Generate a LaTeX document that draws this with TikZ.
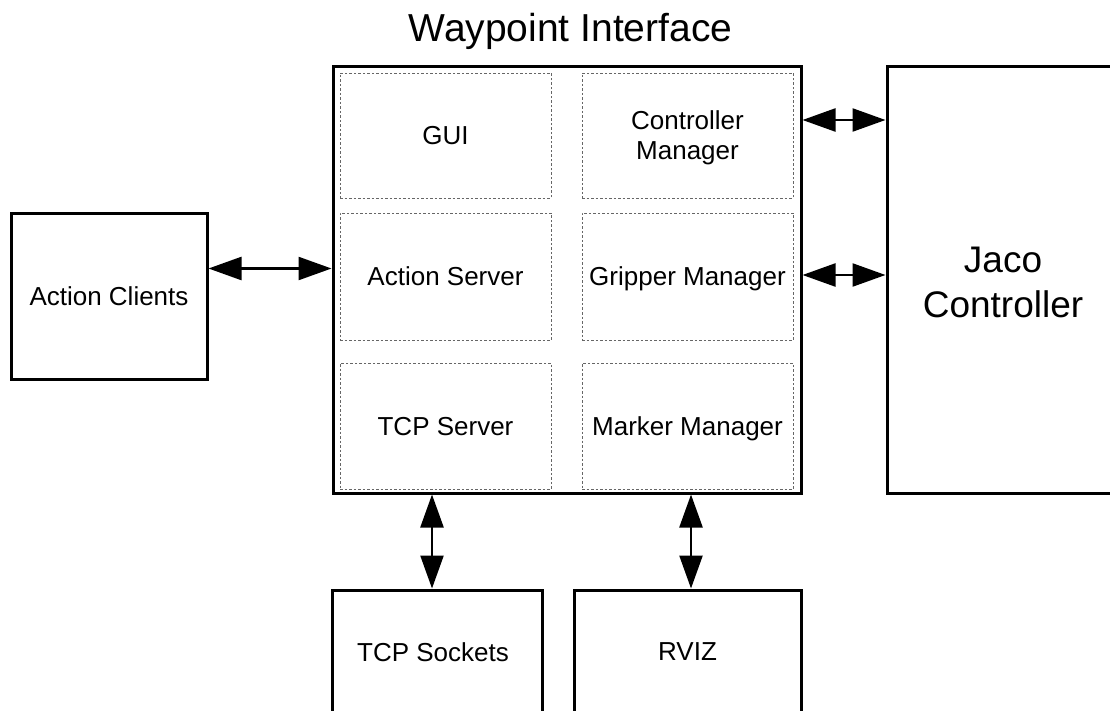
\documentclass[tikz,border=0pt]{standalone}
\usepackage{fontspec}
\setmainfont{Liberation Sans}
\usetikzlibrary{arrows.meta}
\begin{document}
\begin{tikzpicture}[x=1pt,y=-1pt,
  solidbox/.style={draw=black,line width=3pt,rectangle,inner sep=0pt,fill=white},
  subbox/.style={draw=black!60,line width=0.9pt,dash pattern=on 2.5pt off 2pt,rectangle,inner sep=0pt,align=center,text depth=0pt,font=\fontsize{26}{30}\selectfont},
  lbl/.style={font=\fontsize{26}{30}\selectfont,align=center,inner sep=0pt,text depth=0pt},
  biarrow/.style={line width=2.4pt,{Triangle[length=33pt,width=23pt]}-{Triangle[length=33pt,width=23pt]}}]
\useasboundingbox (0,0) rectangle (1110,711);
\clip (0,0) rectangle (1110,711);
\fill[white] (0,0) rectangle (1110,711);
% title
\node[anchor=base,inner sep=0pt,font=\fontsize{39}{44}\selectfont] (title) at (570.5,42) {Waypoint Interface};
% main box
\node[solidbox,minimum width=468pt,minimum height=426pt] (wi) at (567,280) {};
% sub boxes
\node[subbox,minimum width=211pt,minimum height=125pt] (gui) at (445.5,135.5) {GUI};
\node[subbox,minimum width=211pt,minimum height=127pt] (as) at (445.5,276.5) {Action Server};
\node[subbox,minimum width=211pt,minimum height=126pt] (tcpserv) at (445.5,426) {TCP Server};
\node[subbox,minimum width=211pt,minimum height=125pt] (cm) at (687.5,135.5) {Controller\\Manager};
\node[subbox,minimum width=211pt,minimum height=127pt] (gm) at (687.5,276.5) {Gripper Manager};
\node[subbox,minimum width=211pt,minimum height=126pt] (mm) at (687.5,426) {Marker Manager};
% outer boxes
\node[solidbox,minimum width=196pt,minimum height=165pt] (ac) at (109,296.5) {};
\node[lbl] (aclbl) at (ac.center) {Action Clients};
\node[solidbox,minimum width=236pt,minimum height=426pt] (jaco) at (1005,280) {};
\node[lbl,font=\fontsize{37}{45}\selectfont] (jacolbl) at (1003,282) {Jaco\\Controller};
\node[solidbox,minimum width=210pt,minimum height=124pt] (tcps) at (437,652) {};
\node[lbl] (tcpslbl) at (433,652) {TCP Sockets};
\node[solidbox,minimum width=227pt,minimum height=124pt] (rviz) at (687.5,652) {};
\node[lbl] (rvizlbl) at (rviz.center) {RVIZ};
% arrows
\draw[biarrow] ([yshift=28pt]ac.east) -- ([yshift=28pt]ac.east -| wi.west);
\draw[biarrow] ([yshift=160pt]wi.east) -- ([yshift=160pt]jaco.west);
\draw[biarrow] ([yshift=5pt]wi.east) -- ([yshift=5pt]jaco.west);
\draw[biarrow] ([xshift=-135pt]wi.south) -- ([xshift=-135pt]wi.south |- tcps.north);
\draw[biarrow] ([xshift=124pt]wi.south) -- ([xshift=124pt]wi.south |- rviz.north);
\end{tikzpicture}
\end{document}
